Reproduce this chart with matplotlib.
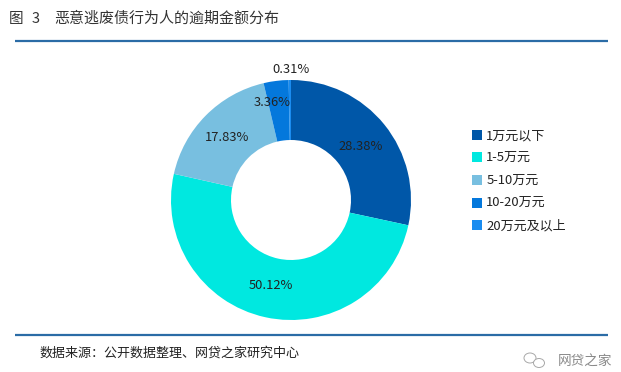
import matplotlib
matplotlib.use("Agg")
from matplotlib import pyplot as plt
from matplotlib.patches import Ellipse, Patch
import numpy as np

plt.rcParams['font.family'] = ['Noto Sans CJK SC', 'DejaVu Sans']

W, H = 621, 372

categories = ["1万元以下", "1-5万元", "5-10万元", "10-20万元", "20万元及以上"]
shares = [28.38, 50.12, 17.83, 3.36, 0.31]
pct_labels = ["28.38%", "50.12%", "17.83%", "3.36%", "0.31%"]
colors = ["#0057A8", "#00E8E0", "#78BFE0", "#0478DC", "#1A8CF0"]
label_radius = [0.74, 0.73, 0.75, 0.83, 1.10]
# small pixel shifts (x right, y up) for the percent labels
label_shift = [(1, -2), (-1, 0), (0, -1), (-6, -1), (1, -1)]

title_text = "恶意逃废债行为人的逾期金额分布"
source_text = "数据来源：公开数据整理、网贷之家研究中心"

fig = plt.figure(figsize=(W / 100, H / 100), dpi=100, facecolor="white")

# overlay in pixel coordinates for the rules and captions
bg = fig.add_axes([0, 0, 1, 1])
bg.set_xlim(0, W)
bg.set_ylim(H, 0)
bg.axis("off")

rule_color = "#2B6CA6"
bg.plot([15, 608], [41, 41], color=rule_color, lw=1.6, solid_capstyle="butt")
bg.plot([15, 608], [335, 335], color=rule_color, lw=1.6, solid_capstyle="butt")

bg.text(9, 19, "图", fontsize=10.5, color="#333333", va="center")
bg.text(32, 19, "3", fontsize=10.5, color="#333333", va="center")
bg.text(54, 19, title_text, fontsize=10.8, color="#333333", va="center")
bg.text(40, 353, source_text, fontsize=9.4, color="#222222", va="center")
bg.text(558, 361, "网贷之家", fontsize=9.8, color="#8a8a8a", va="center")

# watermark icon
bg.add_patch(Ellipse((530, 358), 12, 10, fill=False, ec="#a8a8a8", lw=0.7))
bg.add_patch(Ellipse((539, 363), 11, 9, ec="#a8a8a8", lw=0.7, fc="white"))

# donut
ax = fig.add_axes([171 / W, 1 - 320 / H, 240 / W, 240 / H])
wedges, _ = ax.pie(shares, colors=colors, startangle=90, counterclock=False,
                   radius=1, wedgeprops=dict(width=0.5, linewidth=0))
ax.set_xlim(-1, 1)
ax.set_ylim(-1, 1)

px = 2 / 240  # data units per pixel
for w, label, r, (dx, dy) in zip(wedges, pct_labels, label_radius, label_shift):
    mid = np.deg2rad((w.theta1 + w.theta2) / 2)
    ax.text(r * np.cos(mid) + dx * px, r * np.sin(mid) + dy * px, label, fontsize=9.3,
            color="#222222", ha="center", va="center", clip_on=False)

handles = [Patch(facecolor=c, edgecolor="none") for c in colors]
fig.legend(handles, categories, loc="center left", bbox_to_anchor=(465 / W, 1 - 181 / H),
           frameon=False, fontsize=9.4, handlelength=0.78, handleheight=0.78,
           handletextpad=0.35, labelspacing=0.74, labelcolor="#222222", borderpad=0)

fig.savefig("out.png", dpi=100)
